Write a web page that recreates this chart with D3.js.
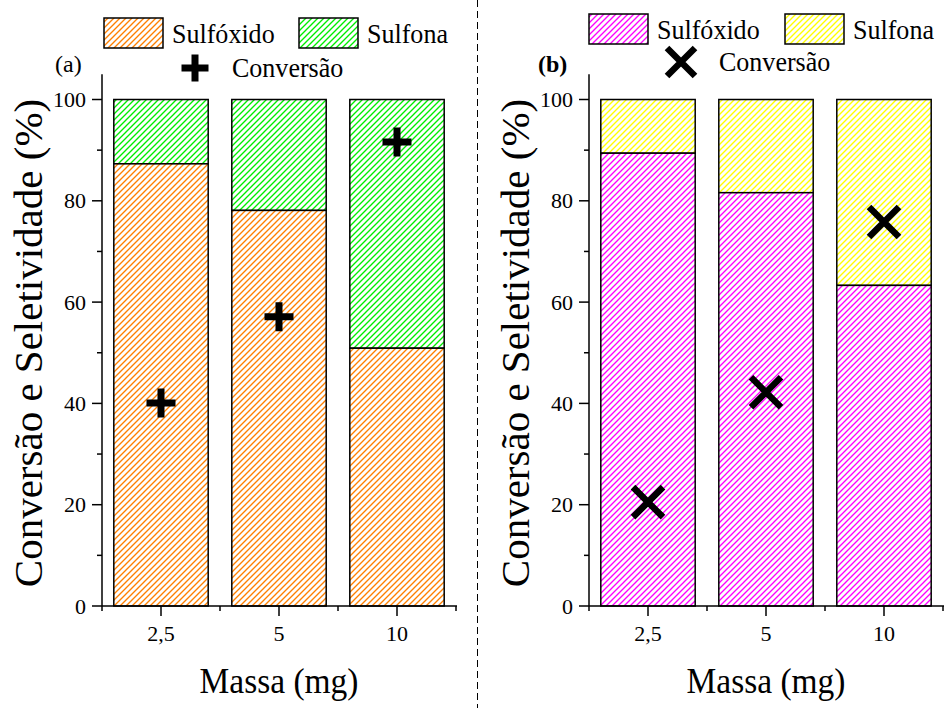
<!DOCTYPE html>
<html>
<head>
<meta charset="utf-8">
<script src="https://cdn.jsdelivr.net/npm/d3@7"></script>
<style>
  html, body { margin: 0; padding: 0; background: #fff; }
  svg text { font-family: "Liberation Serif", serif; }
</style>
</head>
<body>
<svg id="chart" width="944" height="708"></svg>
<script>
// Catalyst mass categories
const massas = ["2,5", "5", "10"];
// Panel (a)
const sulfoxidoA = [87.3, 78.1, 50.9];
const conversaoA = [40.1, 57.1, 91.6];
// Panel (b)
const sulfoxidoB = [89.4, 81.6, 63.3];
const conversaoB = [20.5, 42.2, 75.8];
// Axis ticks
const yMajor = [0, 20, 40, 60, 80, 100];
const yMinor = [10, 30, 50, 70, 90];

const FONT = "Liberation Serif";
const svg = d3.select("#chart");
const defs = svg.append("defs");

function hatch(id, color) {
  const s = 6;
  const p = defs.append("pattern")
    .attr("id", id)
    .attr("patternUnits", "userSpaceOnUse")
    .attr("width", s).attr("height", s);
  p.append("rect").attr("width", s).attr("height", s).attr("fill", "#fff");
  p.append("path")
    .attr("d", `M-1,1 L1,-1 M0,${s} L${s},0 M${s - 1},${s + 1} L${s + 1},${s - 1}`)
    .attr("stroke", color)
    .attr("stroke-width", 1.35)
    .attr("fill", "none");
}
hatch("hOrange", "#ff8000");
hatch("hGreen", "#00ee00");
hatch("hMagenta", "#ff00ff");
hatch("hYellow", "#ffff00");

const y = d3.scaleLinear().domain([0, 105]).range([606, 606 - 105 * 5.065]);

// text placed at (x, yy); sx narrows the glyphs horizontally
function label(g, x, yy, size, txt, anchor, sx) {
  return g.append("text")
    .attr("transform", `translate(${x},${yy}) scale(${sx || 1},1)`)
    .attr("font-family", FONT).attr("font-size", size)
    .attr("text-anchor", anchor || "start").text(txt);
}

function plusMarker(g, cx, cy, size) {
  const h = size / 2;
  g.append("path")
    .attr("d", `M${cx - h},${cy} L${cx + h},${cy} M${cx},${cy - h} L${cx},${cy + h}`)
    .attr("stroke", "#000").attr("stroke-width", 7).attr("fill", "none");
}
function xMarker(g, cx, cy, size) {
  const h = size / 2;
  g.append("path")
    .attr("d", `M${cx - h},${cy - h} L${cx + h},${cy + h} M${cx - h},${cy + h} L${cx + h},${cy - h}`)
    .attr("stroke", "#000").attr("stroke-width", 6.5).attr("fill", "none");
}

function panel(opts) {
  const g = svg.append("g");
  const x0 = opts.x0, x1 = opts.x0 + 354;
  const x = d3.scaleBand().domain(massas).range([x0, x1])
    .paddingInner(0.2).paddingOuter(0.1);
  const step = x.step();

  // stacked bars: sulfone on top of sulfoxide, total 100 %
  massas.forEach((m, i) => {
    const bx = x(m), bw = x.bandwidth();
    g.append("rect")
      .attr("x", bx).attr("y", y(100))
      .attr("width", bw).attr("height", y(opts.sulf[i]) - y(100))
      .attr("fill", `url(#${opts.fillTop})`)
      .attr("stroke", "#000").attr("stroke-width", 1.5);
    g.append("rect")
      .attr("x", bx).attr("y", y(opts.sulf[i]))
      .attr("width", bw).attr("height", y(0) - y(opts.sulf[i]))
      .attr("fill", `url(#${opts.fillBottom})`)
      .attr("stroke", "#000").attr("stroke-width", 1.5);
  });

  // conversion markers
  massas.forEach((m, i) => {
    const cx = x(m) + x.bandwidth() / 2;
    opts.marker(g, cx, y(opts.conv[i]), opts.markerSize);
  });

  // y axis
  g.append("line").attr("x1", x0).attr("x2", x0)
    .attr("y1", y(105)).attr("y2", y(0))
    .attr("stroke", "#000").attr("stroke-width", 1.5);
  yMajor.forEach(v => {
    g.append("line").attr("x1", x0 - 10).attr("x2", x0)
      .attr("y1", y(v)).attr("y2", y(v))
      .attr("stroke", "#000").attr("stroke-width", 1.5);
    label(g, x0 - 16, y(v) + 7.5, 22, v, "end");
  });
  yMinor.forEach(v => {
    g.append("line").attr("x1", x0 - 5).attr("x2", x0)
      .attr("y1", y(v)).attr("y2", y(v))
      .attr("stroke", "#000").attr("stroke-width", 1.5);
  });

  // x axis
  g.append("line").attr("x1", x0).attr("x2", x1 + 1)
    .attr("y1", y(0)).attr("y2", y(0))
    .attr("stroke", "#000").attr("stroke-width", 1.5);
  massas.forEach(m => {
    const cx = x(m) + x.bandwidth() / 2;
    g.append("line").attr("x1", cx).attr("x2", cx)
      .attr("y1", y(0)).attr("y2", y(0) + 10)
      .attr("stroke", "#000").attr("stroke-width", 1.5);
    label(g, cx, 641, 22, m, "middle");
  });
  d3.range(massas.length + 1).forEach(k => {
    const bx = x0 + k * step;
    g.append("line").attr("x1", bx).attr("x2", bx)
      .attr("y1", y(0)).attr("y2", y(0) + 5)
      .attr("stroke", "#000").attr("stroke-width", 1.5);
  });

  // axis titles
  label(g, (x0 + x1) / 2, 693, 36, "Massa (mg)", "middle", 0.93);
  g.append("text")
    .attr("transform", `translate(${x0 - 60},343) rotate(-90)`)
    .attr("text-anchor", "middle")
    .attr("font-family", FONT).attr("font-size", 41)
    .text("Conversão e Seletividade (%)");

  // panel tag
  label(g, opts.tagX, 72, 24, opts.tag)
    .attr("font-weight", opts.tagBold ? "bold" : "normal");

  // legend
  const L = opts.legend;
  g.append("rect").attr("x", L.r1x).attr("y", L.ry).attr("width", 59).attr("height", 30)
    .attr("fill", `url(#${opts.fillBottom})`).attr("stroke", "#000").attr("stroke-width", 1.5);
  label(g, L.r1x + 68, L.ry + 25, 28, "Sulfóxido", "start", 0.93);
  g.append("rect").attr("x", L.r2x).attr("y", L.ry).attr("width", 59).attr("height", 30)
    .attr("fill", `url(#${opts.fillTop})`).attr("stroke", "#000").attr("stroke-width", 1.5);
  label(g, L.r2x + 68, L.ry + 25, 28, "Sulfona", "start", 0.93);
  opts.marker(g, L.mx, L.my, opts.legendMarkerSize);
  label(g, L.tx, L.my + 9, 28, "Conversão", "start", 0.93);
}

panel({
  x0: 102, sulf: sulfoxidoA, conv: conversaoA,
  fillBottom: "hOrange", fillTop: "hGreen",
  marker: plusMarker, markerSize: 29, legendMarkerSize: 27,
  tag: "(a)", tagX: 55, tagBold: false,
  legend: { r1x: 104, r2x: 299, ry: 18, mx: 195, my: 68, tx: 232 }
});
panel({
  x0: 589, sulf: sulfoxidoB, conv: conversaoB,
  fillBottom: "hMagenta", fillTop: "hYellow",
  marker: xMarker, markerSize: 30, legendMarkerSize: 28,
  tag: "(b)", tagX: 538, tagBold: true,
  legend: { r1x: 589, r2x: 785, ry: 14, mx: 681, my: 62, tx: 719 }
});

// divider between the panels
svg.append("line").attr("x1", 477.5).attr("x2", 477.5)
  .attr("y1", 0).attr("y2", 708)
  .attr("stroke", "#000").attr("stroke-width", 1)
  .attr("stroke-dasharray", "7,4");
</script>
</body>
</html>
